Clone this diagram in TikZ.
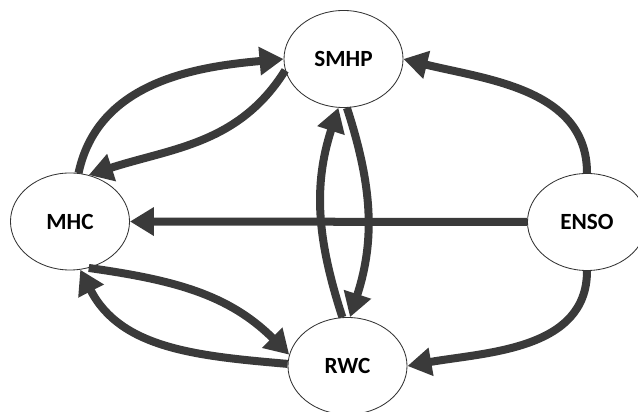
\documentclass[tikz,border=0pt]{standalone}
\usepackage{fontspec}
\setmainfont{Carlito}
\usetikzlibrary{arrows.meta,shapes.geometric}
\definecolor{linkgray}{HTML}{3A3A3A}

\begin{document}
\begin{tikzpicture}[x=0.025cm, y=0.025cm,
    var/.style={ellipse, draw=black!80, line width=0.6pt, minimum width=2.975cm,
        minimum height=2.425cm, inner sep=0pt, font=\fontsize{16.5}{19}\selectfont\bfseries},
    link/.style={-{Triangle[length=0.6cm, width=0.68cm]}, line width=0.2cm, draw=linkgray}]
        \useasboundingbox (0,0) rectangle (638,412);
        % Variables
        \node [var] (smhp) at (343.5,353) {SMHP};
        \node [var] (mhc) at (70,190.5) {MHC};
        \node [var] (enso) at (587,190) {ENSO};
        \node [var] (rwc) at (347.5,46) {RWC};
        % Links between MHC and SMHP
        \draw [link] (mhc.80) to [out=78, in=185] (smhp.180);
        \draw [link] (smhp.191) to [out=238, in=18] (mhc.68);
        % Links from ENSO
        \draw [link] (enso.90) to [out=90, in=-14] (smhp.0);
        \draw [link] (enso.180) -- (mhc.0);
        \draw [link] (enso.-90) to [out=-90, in=10] (rwc.0);
        % Links between SMHP and RWC
        \draw [link] (smhp.-86) to [out=-72, in=72] (rwc.87);
        \draw [link] (rwc.96) to [out=108, in=-108] (smhp.-96);
        % Links between MHC and RWC
        \draw [link] (mhc.-68) to [out=-8, in=135] (rwc.169);
        \draw [link] (rwc.178) to [out=175, in=-63] (mhc.-78);
\end{tikzpicture}
\end{document}
